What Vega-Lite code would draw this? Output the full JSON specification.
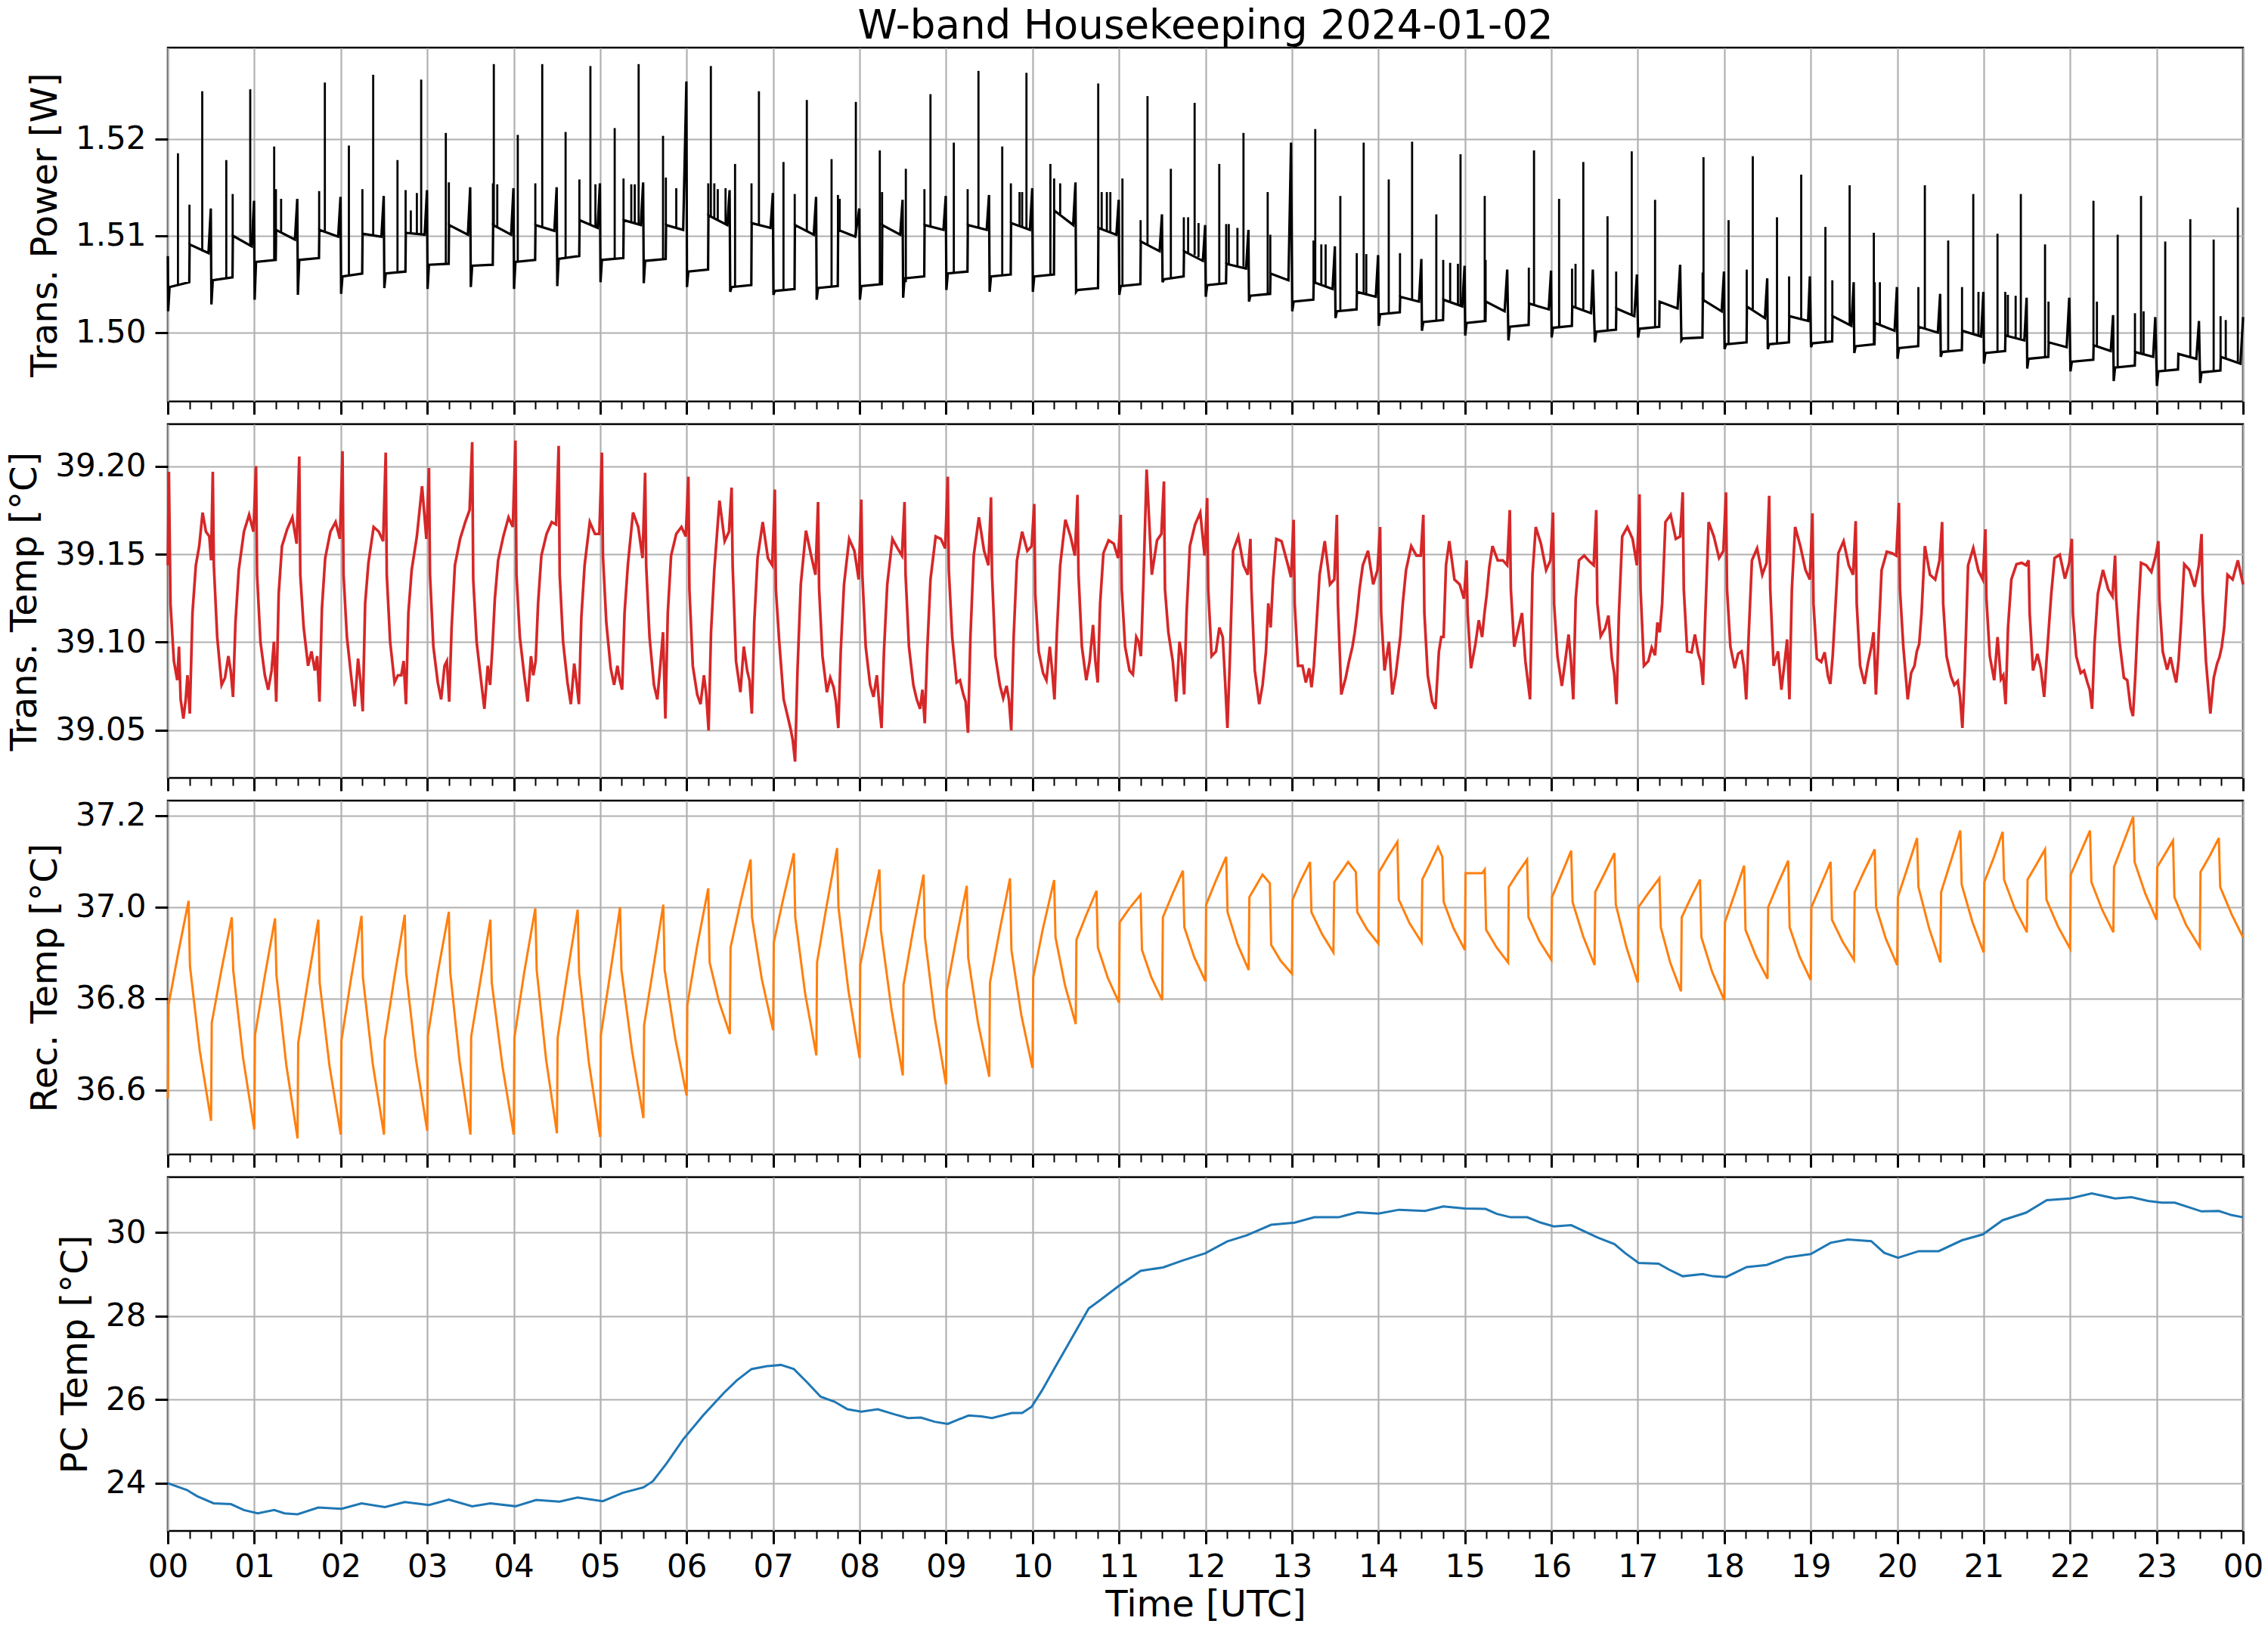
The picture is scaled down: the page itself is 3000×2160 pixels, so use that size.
{
"$schema": "https://vega.github.io/schema/vega-lite/v6.json",
"background": "white",
"padding": {"left": 8, "top": 8, "right": 8, "bottom": 4},
"spacing": 30,
"bounds": "flush",
"title": {"text": "W-band Housekeeping 2024-01-02", "fontSize": 53, "font": "DejaVu Sans", "fontWeight": "normal", "color": "#000000", "anchor": "middle", "frame": "group", "baseline": "alphabetic", "offset": -42},
"config": {
"font": "DejaVu Sans",
"view": {"stroke": "#000000", "strokeWidth": 2.5},
"axis": {"labelFont": "DejaVu Sans", "titleFont": "DejaVu Sans", "labelFontSize": 42, "titleFontSize": 48, "labelColor": "#000000", "titleColor": "#000000", "titleFontWeight": "normal", "gridColor": "#b0b0b0", "gridWidth": 2.2, "tickColor": "#000000", "domain": false}
},
"datasets": {
"pw": [
{"t":0,"v":1.5079},{"t":0.004,"v":1.5022},{"t":0.02,"v":1.5047},{"t":0.248,"v":1.5052},{"t":0.252,"v":1.5091},{"t":0.47,"v":1.5082},{"t":0.497,"v":1.5128},
{"t":0.504,"v":1.5029},{"t":0.52,"v":1.5054},{"t":0.748,"v":1.5057},{"t":0.752,"v":1.5100},{"t":0.97,"v":1.5089},{"t":0.997,"v":1.5136},
{"t":1.004,"v":1.5034},{"t":1.02,"v":1.5073},{"t":1.248,"v":1.5075},{"t":1.252,"v":1.5106},{"t":1.47,"v":1.5096},{"t":1.497,"v":1.5138},
{"t":1.504,"v":1.5039},{"t":1.52,"v":1.5075},{"t":1.748,"v":1.5077},{"t":1.752,"v":1.5106},{"t":1.97,"v":1.5099},{"t":1.997,"v":1.5140},
{"t":2.004,"v":1.5040},{"t":2.02,"v":1.5058},{"t":2.248,"v":1.5061},{"t":2.252,"v":1.5102},{"t":2.47,"v":1.5099},{"t":2.497,"v":1.5141},
{"t":2.504,"v":1.5046},{"t":2.52,"v":1.5061},{"t":2.748,"v":1.5063},{"t":2.752,"v":1.5103},{"t":2.97,"v":1.5101},{"t":2.997,"v":1.5147},
{"t":3.004,"v":1.5045},{"t":3.02,"v":1.5070},{"t":3.248,"v":1.5071},{"t":3.252,"v":1.5111},{"t":3.47,"v":1.5101},{"t":3.497,"v":1.5150},
{"t":3.504,"v":1.5047},{"t":3.52,"v":1.5069},{"t":3.758,"v":1.5070},{"t":3.762,"v":1.5111},{"t":3.97,"v":1.5101},{"t":3.997,"v":1.5149},
{"t":4.004,"v":1.5045},{"t":4.02,"v":1.5073},{"t":4.248,"v":1.5075},{"t":4.252,"v":1.5111},{"t":4.47,"v":1.5105},{"t":4.497,"v":1.5150},
{"t":4.504,"v":1.5048},{"t":4.52,"v":1.5076},{"t":4.758,"v":1.5079},{"t":4.762,"v":1.5116},{"t":4.97,"v":1.5108},{"t":4.997,"v":1.5154},
{"t":5.004,"v":1.5052},{"t":5.02,"v":1.5075},{"t":5.268,"v":1.5077},{"t":5.272,"v":1.5116},{"t":5.47,"v":1.5111},{"t":5.497,"v":1.5155},
{"t":5.504,"v":1.5051},{"t":5.52,"v":1.5074},{"t":5.758,"v":1.5076},{"t":5.762,"v":1.5111},{"t":5.96,"v":1.5106},{"t":5.997,"v":1.5259},
{"t":6.004,"v":1.5047},{"t":6.02,"v":1.5063},{"t":6.248,"v":1.5065},{"t":6.252,"v":1.5121},{"t":6.47,"v":1.5111},{"t":6.497,"v":1.5147},
{"t":6.504,"v":1.5042},{"t":6.52,"v":1.5047},{"t":6.748,"v":1.5049},{"t":6.752,"v":1.5113},{"t":6.97,"v":1.5108},{"t":6.997,"v":1.5144},
{"t":7.004,"v":1.5039},{"t":7.02,"v":1.5043},{"t":7.248,"v":1.5045},{"t":7.252,"v":1.5111},{"t":7.47,"v":1.5101},{"t":7.497,"v":1.5140},
{"t":7.504,"v":1.5034},{"t":7.52,"v":1.5046},{"t":7.748,"v":1.5048},{"t":7.752,"v":1.5106},{"t":7.95,"v":1.5099},{"t":7.997,"v":1.5128},
{"t":8.004,"v":1.5034},{"t":8.02,"v":1.5048},{"t":8.258,"v":1.5050},{"t":8.262,"v":1.5111},{"t":8.47,"v":1.5101},{"t":8.497,"v":1.5137},
{"t":8.504,"v":1.5036},{"t":8.52,"v":1.5056},{"t":8.748,"v":1.5058},{"t":8.752,"v":1.5111},{"t":8.97,"v":1.5106},{"t":8.997,"v":1.5141},
{"t":9.004,"v":1.5044},{"t":9.02,"v":1.5061},{"t":9.248,"v":1.5063},{"t":9.252,"v":1.5111},{"t":9.47,"v":1.5106},{"t":9.497,"v":1.5142},
{"t":9.504,"v":1.5042},{"t":9.52,"v":1.5058},{"t":9.748,"v":1.5060},{"t":9.752,"v":1.5113},{"t":9.97,"v":1.5106},{"t":9.997,"v":1.5149},
{"t":10.004,"v":1.5042},{"t":10.02,"v":1.5058},{"t":10.248,"v":1.5060},{"t":10.252,"v":1.5126},{"t":10.47,"v":1.5111},{"t":10.497,"v":1.5155},
{"t":10.504,"v":1.5042},{"t":10.52,"v":1.5044},{"t":10.758,"v":1.5046},{"t":10.762,"v":1.5108},{"t":10.97,"v":1.5101},{"t":10.997,"v":1.5137},
{"t":11.004,"v":1.5039},{"t":11.02,"v":1.5048},{"t":11.248,"v":1.5050},{"t":11.252,"v":1.5094},{"t":11.47,"v":1.5084},{"t":11.497,"v":1.5122},
{"t":11.504,"v":1.5052},{"t":11.52,"v":1.5055},{"t":11.748,"v":1.5058},{"t":11.752,"v":1.5084},{"t":11.97,"v":1.5074},{"t":11.997,"v":1.5111},
{"t":12.004,"v":1.5037},{"t":12.02,"v":1.5049},{"t":12.238,"v":1.5051},{"t":12.242,"v":1.5071},{"t":12.47,"v":1.5066},{"t":12.497,"v":1.5106},
{"t":12.504,"v":1.5032},{"t":12.52,"v":1.5038},{"t":12.748,"v":1.5040},{"t":12.752,"v":1.5061},{"t":12.96,"v":1.5054},{"t":12.99,"v":1.5196},
{"t":13.004,"v":1.5022},{"t":13.02,"v":1.5032},{"t":13.248,"v":1.5034},{"t":13.252,"v":1.5052},{"t":13.47,"v":1.5045},{"t":13.497,"v":1.5089},
{"t":13.504,"v":1.5015},{"t":13.52,"v":1.5022},{"t":13.748,"v":1.5024},{"t":13.752,"v":1.5042},{"t":13.97,"v":1.5037},{"t":13.997,"v":1.5080},
{"t":14.004,"v":1.5007},{"t":14.02,"v":1.5019},{"t":14.248,"v":1.5021},{"t":14.252,"v":1.5037},{"t":14.47,"v":1.5032},{"t":14.497,"v":1.5076},
{"t":14.504,"v":1.5002},{"t":14.52,"v":1.5011},{"t":14.748,"v":1.5013},{"t":14.752,"v":1.5034},{"t":14.97,"v":1.5027},{"t":14.997,"v":1.5069},
{"t":15.004,"v":1.4997},{"t":15.02,"v":1.5010},{"t":15.238,"v":1.5012},{"t":15.242,"v":1.5032},{"t":15.46,"v":1.5022},{"t":15.49,"v":1.5065},
{"t":15.504,"v":1.4992},{"t":15.52,"v":1.5006},{"t":15.738,"v":1.5008},{"t":15.742,"v":1.5030},{"t":15.97,"v":1.5024},{"t":15.997,"v":1.5064},
{"t":16.004,"v":1.4995},{"t":16.02,"v":1.5005},{"t":16.238,"v":1.5007},{"t":16.242,"v":1.5027},{"t":16.46,"v":1.5020},{"t":16.48,"v":1.5065},
{"t":16.504,"v":1.4990},{"t":16.52,"v":1.5001},{"t":16.748,"v":1.5003},{"t":16.752,"v":1.5025},{"t":16.96,"v":1.5017},{"t":16.99,"v":1.5060},
{"t":17.004,"v":1.4995},{"t":17.02,"v":1.5004},{"t":17.248,"v":1.5006},{"t":17.252,"v":1.5032},{"t":17.46,"v":1.5025},{"t":17.49,"v":1.5070},
{"t":17.504,"v":1.4992},{"t":17.52,"v":1.4994},{"t":17.748,"v":1.4995},{"t":17.752,"v":1.5034},{"t":17.97,"v":1.5022},{"t":17.997,"v":1.5063},
{"t":18.004,"v":1.4983},{"t":18.02,"v":1.4988},{"t":18.258,"v":1.4990},{"t":18.262,"v":1.5027},{"t":18.47,"v":1.5015},{"t":18.497,"v":1.5056},
{"t":18.504,"v":1.4983},{"t":18.52,"v":1.4988},{"t":18.748,"v":1.4990},{"t":18.752,"v":1.5017},{"t":18.97,"v":1.5012},{"t":18.99,"v":1.5058},
{"t":19.004,"v":1.4985},{"t":19.02,"v":1.4989},{"t":19.248,"v":1.4991},{"t":19.252,"v":1.5017},{"t":19.47,"v":1.5007},{"t":19.497,"v":1.5052},
{"t":19.504,"v":1.4979},{"t":19.52,"v":1.4986},{"t":19.738,"v":1.4988},{"t":19.742,"v":1.5010},{"t":19.97,"v":1.5002},{"t":19.997,"v":1.5047},
{"t":20.004,"v":1.4973},{"t":20.02,"v":1.4984},{"t":20.243,"v":1.4986},{"t":20.247,"v":1.5006},{"t":20.47,"v":1.5000},{"t":20.497,"v":1.5040},
{"t":20.504,"v":1.4975},{"t":20.52,"v":1.4980},{"t":20.748,"v":1.4982},{"t":20.752,"v":1.5002},{"t":20.97,"v":1.4996},{"t":20.997,"v":1.5042},
{"t":21.004,"v":1.4968},{"t":21.02,"v":1.4979},{"t":21.248,"v":1.4981},{"t":21.252,"v":1.4997},{"t":21.47,"v":1.4992},{"t":21.497,"v":1.5036},
{"t":21.504,"v":1.4963},{"t":21.52,"v":1.4973},{"t":21.748,"v":1.4975},{"t":21.752,"v":1.4990},{"t":21.96,"v":1.4985},{"t":21.99,"v":1.5036},
{"t":22.004,"v":1.4960},{"t":22.02,"v":1.4970},{"t":22.268,"v":1.4972},{"t":22.272,"v":1.4987},{"t":22.47,"v":1.4981},{"t":22.497,"v":1.5018},
{"t":22.504,"v":1.4950},{"t":22.52,"v":1.4964},{"t":22.748,"v":1.4966},{"t":22.752,"v":1.4980},{"t":22.96,"v":1.4975},{"t":22.985,"v":1.5016},
{"t":23.004,"v":1.4945},{"t":23.02,"v":1.4960},{"t":23.248,"v":1.4962},{"t":23.252,"v":1.4978},{"t":23.46,"v":1.4973},{"t":23.49,"v":1.5012},
{"t":23.504,"v":1.4948},{"t":23.52,"v":1.4959},{"t":23.738,"v":1.4961},{"t":23.742,"v":1.4975},{"t":23.97,"v":1.4968},{"t":24.0,"v":1.5016}
],
"ps": [
{"t":0.117,"b":1.5049,"s":1.5185},{"t":0.25,"b":1.5091,"s":1.5132},{"t":0.398,"b":1.5084,"s":1.5249},
{"t":0.676,"b":1.5056,"s":1.5178},{"t":0.75,"b":1.5100,"s":1.5143},{"t":0.953,"b":1.5090,"s":1.5251},
{"t":1.23,"b":1.5075,"s":1.5192},{"t":1.25,"b":1.5106,"s":1.5148},{"t":1.31,"b":1.5104,"s":1.5138},
{"t":1.75,"b":1.5106,"s":1.5146},{"t":1.816,"b":1.5104,"s":1.5258},
{"t":2.094,"b":1.5059,"s":1.5193},{"t":2.25,"b":1.5102,"s":1.5148},{"t":2.375,"b":1.5101,"s":1.5266},
{"t":2.656,"b":1.5062,"s":1.5178},{"t":2.75,"b":1.5103,"s":1.5147},{"t":2.81,"b":1.5103,"s":1.5126},{"t":2.88,"b":1.5102,"s":1.5144},{"t":2.93,"b":1.5102,"s":1.5261},
{"t":3.215,"b":1.5071,"s":1.5206},{"t":3.25,"b":1.5111,"s":1.5155},
{"t":3.76,"b":1.5111,"s":1.5154},{"t":3.77,"b":1.5110,"s":1.5277},{"t":3.81,"b":1.5108,"s":1.5153},
{"t":4.047,"b":1.5073,"s":1.5204},{"t":4.25,"b":1.5111,"s":1.5154},{"t":4.33,"b":1.5109,"s":1.5277},
{"t":4.60,"b":1.5077,"s":1.5207},{"t":4.76,"b":1.5116,"s":1.5158},{"t":4.887,"b":1.5111,"s":1.5275},{"t":4.945,"b":1.5109,"s":1.5153},
{"t":5.168,"b":1.5076,"s":1.5211},{"t":5.27,"b":1.5116,"s":1.5159},{"t":5.36,"b":1.5114,"s":1.5153},{"t":5.40,"b":1.5113,"s":1.5153},{"t":5.445,"b":1.5112,"s":1.5277},
{"t":5.727,"b":1.5075,"s":1.5203},{"t":5.76,"b":1.5111,"s":1.5160},{"t":5.88,"b":1.5108,"s":1.5149},
{"t":6.25,"b":1.5121,"s":1.5154},{"t":6.28,"b":1.5120,"s":1.5275},{"t":6.32,"b":1.5118,"s":1.5154},{"t":6.36,"b":1.5117,"s":1.5148},{"t":6.45,"b":1.5113,"s":1.5149},
{"t":6.56,"b":1.5048,"s":1.5174},{"t":6.75,"b":1.5113,"s":1.5154},{"t":6.836,"b":1.5111,"s":1.5249},
{"t":7.12,"b":1.5044,"s":1.5176},{"t":7.25,"b":1.5111,"s":1.5143},{"t":7.39,"b":1.5105,"s":1.5240},
{"t":7.676,"b":1.5047,"s":1.5179},{"t":7.75,"b":1.5106,"s":1.5142},{"t":7.77,"b":1.5105,"s":1.5138},{"t":7.957,"b":1.5100,"s":1.5238},
{"t":8.234,"b":1.5050,"s":1.5188},{"t":8.26,"b":1.5111,"s":1.5145},
{"t":8.535,"b":1.5052,"s":1.5169},{"t":8.75,"b":1.5111,"s":1.5148},{"t":8.82,"b":1.5110,"s":1.5246},
{"t":9.09,"b":1.5062,"s":1.5196},{"t":9.25,"b":1.5111,"s":1.5148},{"t":9.375,"b":1.5109,"s":1.5270},
{"t":9.65,"b":1.5059,"s":1.5192},{"t":9.75,"b":1.5113,"s":1.5154},{"t":9.85,"b":1.5110,"s":1.5145},{"t":9.88,"b":1.5109,"s":1.5145},{"t":9.93,"b":1.5108,"s":1.5268},
{"t":10.207,"b":1.5059,"s":1.5174},{"t":10.25,"b":1.5126,"s":1.5159},{"t":10.32,"b":1.5122,"s":1.5154},
{"t":10.76,"b":1.5108,"s":1.5257},{"t":10.80,"b":1.5107,"s":1.5145},{"t":10.86,"b":1.5105,"s":1.5145},{"t":10.90,"b":1.5104,"s":1.5145},
{"t":11.04,"b":1.5048,"s":1.5159},{"t":11.25,"b":1.5094,"s":1.5116},{"t":11.33,"b":1.5090,"s":1.5244},
{"t":11.60,"b":1.5056,"s":1.5169},{"t":11.75,"b":1.5084,"s":1.5119},{"t":11.80,"b":1.5082,"s":1.5119},{"t":11.875,"b":1.5080,"s":1.5237},{"t":11.92,"b":1.5078,"s":1.5113},
{"t":12.16,"b":1.5050,"s":1.5174},{"t":12.24,"b":1.5071,"s":1.5112},{"t":12.27,"b":1.5071,"s":1.5112},{"t":12.37,"b":1.5069,"s":1.5108},{"t":12.44,"b":1.5068,"s":1.5206},
{"t":12.72,"b":1.5039,"s":1.5145},{"t":12.75,"b":1.5061,"s":1.5101},
{"t":13.25,"b":1.5052,"s":1.5095},{"t":13.27,"b":1.5051,"s":1.5210},{"t":13.34,"b":1.5049,"s":1.5091},{"t":13.39,"b":1.5047,"s":1.5091},
{"t":13.56,"b":1.5023,"s":1.5141},{"t":13.75,"b":1.5042,"s":1.5082},{"t":13.83,"b":1.5040,"s":1.5196},{"t":13.86,"b":1.5039,"s":1.5081},
{"t":14.12,"b":1.5020,"s":1.5158},{"t":14.25,"b":1.5037,"s":1.5082},{"t":14.39,"b":1.5034,"s":1.5197},
{"t":14.67,"b":1.5012,"s":1.5122},{"t":14.75,"b":1.5034,"s":1.5075},{"t":14.83,"b":1.5032,"s":1.5072},{"t":14.92,"b":1.5029,"s":1.5071},{"t":14.95,"b":1.5028,"s":1.5184},
{"t":15.23,"b":1.5012,"s":1.5141},{"t":15.24,"b":1.5032,"s":1.5075},
{"t":15.74,"b":1.5030,"s":1.5067},{"t":15.80,"b":1.5029,"s":1.5188},
{"t":16.09,"b":1.5006,"s":1.5138},{"t":16.24,"b":1.5027,"s":1.5066},{"t":16.28,"b":1.5026,"s":1.5071},{"t":16.37,"b":1.5024,"s":1.5176},
{"t":16.65,"b":1.5002,"s":1.5120},{"t":16.75,"b":1.5025,"s":1.5063},{"t":16.93,"b":1.5019,"s":1.5187},
{"t":17.20,"b":1.5005,"s":1.5137},
{"t":17.75,"b":1.5034,"s":1.5062},{"t":17.76,"b":1.5034,"s":1.5181},
{"t":18.05,"b":1.4988,"s":1.5116},{"t":18.26,"b":1.5027,"s":1.5065},{"t":18.33,"b":1.5024,"s":1.5182},
{"t":18.61,"b":1.4989,"s":1.5119},{"t":18.75,"b":1.5017,"s":1.5058},{"t":18.89,"b":1.5014,"s":1.5163},
{"t":19.17,"b":1.4990,"s":1.5109},{"t":19.25,"b":1.5017,"s":1.5054},{"t":19.45,"b":1.5009,"s":1.5152},
{"t":19.73,"b":1.4987,"s":1.5103},{"t":19.74,"b":1.5010,"s":1.5052},{"t":19.80,"b":1.5008,"s":1.5052},
{"t":20.245,"b":1.5006,"s":1.5047},{"t":20.32,"b":1.5004,"s":1.5152},
{"t":20.59,"b":1.4981,"s":1.5095},{"t":20.75,"b":1.5002,"s":1.5047},{"t":20.88,"b":1.4999,"s":1.5143},{"t":20.94,"b":1.4997,"s":1.5042},
{"t":21.16,"b":1.4980,"s":1.5102},{"t":21.25,"b":1.4997,"s":1.5042},{"t":21.28,"b":1.4996,"s":1.5039},{"t":21.37,"b":1.4995,"s":1.5038},{"t":21.43,"b":1.4994,"s":1.5143},
{"t":21.71,"b":1.4974,"s":1.5091},{"t":21.75,"b":1.4990,"s":1.5032},
{"t":22.27,"b":1.4987,"s":1.5136},{"t":22.31,"b":1.4986,"s":1.5032},
{"t":22.55,"b":1.4965,"s":1.5101},{"t":22.75,"b":1.4980,"s":1.5020},{"t":22.82,"b":1.4979,"s":1.5141},{"t":22.85,"b":1.4978,"s":1.5022},
{"t":23.10,"b":1.4961,"s":1.5094},{"t":23.39,"b":1.4975,"s":1.5117},
{"t":23.66,"b":1.4960,"s":1.5096},{"t":23.74,"b":1.4975,"s":1.5017},{"t":23.80,"b":1.4974,"s":1.5013},{"t":23.94,"b":1.4970,"s":1.5129}
],
"tt": [
{"t":0,"v":39.1437},{"t":0.012,"v":39.1969},{"t":0.031,"v":39.1220},{"t":0.05,"v":39.1056},{"t":0.07,"v":39.0892},{"t":0.109,"v":39.0783},{"t":0.129,"v":39.0974},{"t":0.148,"v":39.0674},{"t":0.18,"v":39.0565},{"t":0.207,"v":39.0674},{"t":0.227,"v":39.0811},{"t":0.254,"v":39.0593},{"t":0.285,"v":39.1165},{"t":0.324,"v":39.1437},{"t":0.363,"v":39.1546},{"t":0.402,"v":39.1737},{"t":0.441,"v":39.1628},{"t":0.48,"v":39.1601},{"t":0.5,"v":39.1465},
{"t":0.52,"v":39.1969},{"t":0.532,"v":39.1437},{"t":0.571,"v":39.1029},{"t":0.622,"v":39.0756},{"t":0.661,"v":39.0797},{"t":0.7,"v":39.0920},{"t":0.727,"v":39.0838},{"t":0.754,"v":39.0688},{"t":0.782,"v":39.1111},{"t":0.82,"v":39.1410},{"t":0.88,"v":39.1628},{"t":0.94,"v":39.1724},{"t":0.99,"v":39.1628},
{"t":1.02,"v":39.2001},{"t":1.032,"v":39.1383},{"t":1.071,"v":39.1002},{"t":1.122,"v":39.0811},{"t":1.161,"v":39.0729},{"t":1.2,"v":39.0838},{"t":1.227,"v":39.1002},{"t":1.254,"v":39.0661},{"t":1.282,"v":39.1274},{"t":1.32,"v":39.1546},{"t":1.38,"v":39.1642},{"t":1.44,"v":39.1710},{"t":1.49,"v":39.1560},
{"t":1.52,"v":39.2056},{"t":1.532,"v":39.1383},{"t":1.571,"v":39.1083},{"t":1.622,"v":39.0865},{"t":1.661,"v":39.0947},{"t":1.7,"v":39.0838},{"t":1.727,"v":39.0920},{"t":1.754,"v":39.0661},{"t":1.782,"v":39.1192},{"t":1.82,"v":39.1478},{"t":1.88,"v":39.1628},{"t":1.94,"v":39.1683},{"t":1.99,"v":39.1587},
{"t":2.02,"v":39.2086},{"t":2.032,"v":39.1383},{"t":2.071,"v":39.1029},{"t":2.122,"v":39.0797},{"t":2.161,"v":39.0634},{"t":2.2,"v":39.0906},{"t":2.227,"v":39.0783},{"t":2.254,"v":39.0606},{"t":2.282,"v":39.1220},{"t":2.32,"v":39.1451},{"t":2.38,"v":39.1655},{"t":2.44,"v":39.1628},{"t":2.49,"v":39.1574},
{"t":2.52,"v":39.2078},{"t":2.532,"v":39.1383},{"t":2.571,"v":39.1002},{"t":2.622,"v":39.0770},{"t":2.661,"v":39.0811},{"t":2.7,"v":39.0811},{"t":2.727,"v":39.0892},{"t":2.754,"v":39.0647},{"t":2.782,"v":39.1165},{"t":2.82,"v":39.1410},{"t":2.88,"v":39.1601},{"t":2.94,"v":39.1887},{"t":2.99,"v":39.1587},
{"t":3.02,"v":39.1990},{"t":3.032,"v":39.1383},{"t":3.071,"v":39.0974},{"t":3.122,"v":39.0770},{"t":3.161,"v":39.0674},{"t":3.2,"v":39.0865},{"t":3.227,"v":39.0892},{"t":3.254,"v":39.0661},{"t":3.282,"v":39.1083},{"t":3.32,"v":39.1437},{"t":3.38,"v":39.1587},{"t":3.44,"v":39.1683},{"t":3.49,"v":39.1751},
{"t":3.52,"v":39.2138},{"t":3.532,"v":39.1356},{"t":3.571,"v":39.1002},{"t":3.622,"v":39.0783},{"t":3.661,"v":39.0620},{"t":3.7,"v":39.0865},{"t":3.727,"v":39.0756},{"t":3.754,"v":39.0974},{"t":3.782,"v":39.1247},{"t":3.82,"v":39.1465},{"t":3.88,"v":39.1601},{"t":3.94,"v":39.1710},{"t":3.99,"v":39.1655},
{"t":4.02,"v":39.2146},{"t":4.032,"v":39.1383},{"t":4.071,"v":39.1029},{"t":4.122,"v":39.0811},{"t":4.161,"v":39.0661},{"t":4.2,"v":39.0920},{"t":4.227,"v":39.0811},{"t":4.254,"v":39.0892},{"t":4.282,"v":39.1220},{"t":4.32,"v":39.1492},{"t":4.38,"v":39.1615},{"t":4.44,"v":39.1683},{"t":4.49,"v":39.1669},
{"t":4.52,"v":39.2116},{"t":4.532,"v":39.1383},{"t":4.571,"v":39.1002},{"t":4.622,"v":39.0770},{"t":4.661,"v":39.0647},{"t":4.7,"v":39.0878},{"t":4.727,"v":39.0770},{"t":4.754,"v":39.0647},{"t":4.782,"v":39.1138},{"t":4.82,"v":39.1437},{"t":4.88,"v":39.1683},{"t":4.94,"v":39.1615},{"t":4.99,"v":39.1615},
{"t":5.02,"v":39.2078},{"t":5.032,"v":39.1492},{"t":5.071,"v":39.1111},{"t":5.122,"v":39.0851},{"t":5.161,"v":39.0756},{"t":5.2,"v":39.0865},{"t":5.227,"v":39.0783},{"t":5.254,"v":39.0729},{"t":5.282,"v":39.1165},{"t":5.32,"v":39.1437},{"t":5.38,"v":39.1737},{"t":5.44,"v":39.1655},{"t":5.49,"v":39.1478},
{"t":5.52,"v":39.1963},{"t":5.532,"v":39.1437},{"t":5.571,"v":39.1029},{"t":5.622,"v":39.0756},{"t":5.661,"v":39.0674},{"t":5.7,"v":39.0892},{"t":5.727,"v":39.1056},{"t":5.754,"v":39.0565},{"t":5.782,"v":39.1165},{"t":5.82,"v":39.1492},{"t":5.88,"v":39.1615},{"t":5.94,"v":39.1655},{"t":5.99,"v":39.1601},
{"t":6.02,"v":39.1941},{"t":6.032,"v":39.1301},{"t":6.071,"v":39.0865},{"t":6.122,"v":39.0702},{"t":6.161,"v":39.0647},{"t":6.2,"v":39.0811},{"t":6.227,"v":39.0702},{"t":6.254,"v":39.0497},{"t":6.282,"v":39.1056},{"t":6.32,"v":39.1410},{"t":6.38,"v":39.1805},{"t":6.44,"v":39.1574},{"t":6.49,"v":39.1628},
{"t":6.52,"v":39.1879},{"t":6.532,"v":39.1437},{"t":6.571,"v":39.0892},{"t":6.622,"v":39.0715},{"t":6.661,"v":39.0974},{"t":6.7,"v":39.0838},{"t":6.727,"v":39.0783},{"t":6.754,"v":39.0593},{"t":6.782,"v":39.1111},{"t":6.82,"v":39.1478},{"t":6.88,"v":39.1683},{"t":6.94,"v":39.1478},{"t":6.99,"v":39.1437},
{"t":7.02,"v":39.1868},{"t":7.032,"v":39.1301},{"t":7.071,"v":39.1002},{"t":7.122,"v":39.0674},{"t":7.161,"v":39.0593},{"t":7.2,"v":39.0511},{"t":7.227,"v":39.0443},{"t":7.254,"v":39.0320},{"t":7.282,"v":39.0838},{"t":7.32,"v":39.1328},{"t":7.38,"v":39.1634},{"t":7.44,"v":39.1492},{"t":7.49,"v":39.1383},
{"t":7.52,"v":39.1797},{"t":7.532,"v":39.1301},{"t":7.571,"v":39.0920},{"t":7.622,"v":39.0715},{"t":7.661,"v":39.0797},{"t":7.7,"v":39.0743},{"t":7.727,"v":39.0661},{"t":7.754,"v":39.0511},{"t":7.782,"v":39.0947},{"t":7.82,"v":39.1328},{"t":7.88,"v":39.1587},{"t":7.94,"v":39.1519},{"t":7.99,"v":39.1356},
{"t":8.02,"v":39.1811},{"t":8.032,"v":39.1383},{"t":8.071,"v":39.0974},{"t":8.122,"v":39.0756},{"t":8.161,"v":39.0688},{"t":8.2,"v":39.0811},{"t":8.227,"v":39.0647},{"t":8.254,"v":39.0511},{"t":8.282,"v":39.0947},{"t":8.32,"v":39.1328},{"t":8.38,"v":39.1587},{"t":8.44,"v":39.1533},{"t":8.49,"v":39.1492},
{"t":8.52,"v":39.1797},{"t":8.532,"v":39.1383},{"t":8.571,"v":39.0974},{"t":8.622,"v":39.0756},{"t":8.661,"v":39.0674},{"t":8.7,"v":39.0620},{"t":8.727,"v":39.0729},{"t":8.754,"v":39.0538},{"t":8.782,"v":39.0947},{"t":8.82,"v":39.1356},{"t":8.88,"v":39.1601},{"t":8.94,"v":39.1587},{"t":8.99,"v":39.1533},
{"t":9.02,"v":39.1941},{"t":9.032,"v":39.1410},{"t":9.071,"v":39.1029},{"t":9.122,"v":39.0770},{"t":9.161,"v":39.0783},{"t":9.2,"v":39.0702},{"t":9.227,"v":39.0661},{"t":9.254,"v":39.0484},{"t":9.282,"v":39.1029},{"t":9.32,"v":39.1492},{"t":9.38,"v":39.1710},{"t":9.44,"v":39.1519},{"t":9.49,"v":39.1437},
{"t":9.52,"v":39.1824},{"t":9.532,"v":39.1383},{"t":9.571,"v":39.0920},{"t":9.622,"v":39.0756},{"t":9.661,"v":39.0680},{"t":9.7,"v":39.0751},{"t":9.727,"v":39.0674},{"t":9.754,"v":39.0497},{"t":9.782,"v":39.1029},{"t":9.82,"v":39.1465},{"t":9.88,"v":39.1628},{"t":9.94,"v":39.1519},{"t":9.99,"v":39.1546},
{"t":10.02,"v":39.1786},{"t":10.032,"v":39.1274},{"t":10.071,"v":39.0947},{"t":10.122,"v":39.0824},{"t":10.161,"v":39.0783},{"t":10.2,"v":39.0974},{"t":10.227,"v":39.0838},{"t":10.254,"v":39.0674},{"t":10.282,"v":39.1056},{"t":10.32,"v":39.1437},{"t":10.38,"v":39.1696},{"t":10.44,"v":39.1601},{"t":10.49,"v":39.1492},
{"t":10.52,"v":39.1838},{"t":10.532,"v":39.1383},{"t":10.571,"v":39.0974},{"t":10.622,"v":39.0783},{"t":10.661,"v":39.0892},{"t":10.7,"v":39.1097},{"t":10.727,"v":39.0892},{"t":10.754,"v":39.0770},{"t":10.782,"v":39.1220},{"t":10.82,"v":39.1506},{"t":10.88,"v":39.1579},{"t":10.94,"v":39.1560},{"t":10.99,"v":39.1478},
{"t":11.02,"v":39.1724},{"t":11.032,"v":39.1301},{"t":11.071,"v":39.0974},{"t":11.122,"v":39.0838},{"t":11.161,"v":39.0816},{"t":11.2,"v":39.1029},{"t":11.227,"v":39.1002},{"t":11.254,"v":39.0920},{"t":11.282,"v":39.1328},{"t":11.32,"v":39.1982},{"t":11.38,"v":39.1383},{"t":11.44,"v":39.1579},{"t":11.49,"v":39.1615},
{"t":11.52,"v":39.1914},{"t":11.532,"v":39.1301},{"t":11.571,"v":39.1056},{"t":11.622,"v":39.0892},{"t":11.661,"v":39.0661},{"t":11.7,"v":39.1002},{"t":11.727,"v":39.0920},{"t":11.754,"v":39.0702},{"t":11.782,"v":39.1165},{"t":11.82,"v":39.1546},{"t":11.88,"v":39.1669},{"t":11.94,"v":39.1737},{"t":11.99,"v":39.1492},
{"t":12.02,"v":39.1819},{"t":12.032,"v":39.1301},{"t":12.071,"v":39.0920},{"t":12.122,"v":39.0947},{"t":12.161,"v":39.1083},{"t":12.2,"v":39.1029},{"t":12.227,"v":39.0783},{"t":12.254,"v":39.0511},{"t":12.282,"v":39.0892},{"t":12.32,"v":39.1519},{"t":12.38,"v":39.1601},{"t":12.44,"v":39.1437},{"t":12.49,"v":39.1383},
{"t":12.52,"v":39.1587},{"t":12.532,"v":39.1301},{"t":12.571,"v":39.0838},{"t":12.622,"v":39.0647},{"t":12.661,"v":39.0756},{"t":12.7,"v":39.0947},{"t":12.727,"v":39.1220},{"t":12.754,"v":39.1083},{"t":12.782,"v":39.1356},{"t":12.82,"v":39.1587},{"t":12.88,"v":39.1574},{"t":12.94,"v":39.1465},{"t":12.99,"v":39.1369},
{"t":13.02,"v":39.1696},{"t":13.032,"v":39.1220},{"t":13.071,"v":39.0865},{"t":13.122,"v":39.0865},{"t":13.161,"v":39.0770},{"t":13.2,"v":39.0851},{"t":13.227,"v":39.0743},{"t":13.254,"v":39.0865},{"t":13.282,"v":39.1083},{"t":13.32,"v":39.1383},{"t":13.38,"v":39.1574},{"t":13.44,"v":39.1328},{"t":13.49,"v":39.1356},
{"t":13.52,"v":39.1724},{"t":13.532,"v":39.1220},{"t":13.571,"v":39.0702},{"t":13.622,"v":39.0797},{"t":13.661,"v":39.0892},{"t":13.7,"v":39.0974},{"t":13.727,"v":39.1056},{"t":13.754,"v":39.1165},{"t":13.782,"v":39.1301},{"t":13.82,"v":39.1437},{"t":13.88,"v":39.1519},{"t":13.94,"v":39.1328},{"t":13.99,"v":39.1410},
{"t":14.02,"v":39.1655},{"t":14.032,"v":39.1165},{"t":14.071,"v":39.0838},{"t":14.122,"v":39.1002},{"t":14.161,"v":39.0702},{"t":14.2,"v":39.0811},{"t":14.227,"v":39.0920},{"t":14.254,"v":39.1029},{"t":14.282,"v":39.1220},{"t":14.32,"v":39.1410},{"t":14.38,"v":39.1546},{"t":14.44,"v":39.1492},{"t":14.49,"v":39.1492},
{"t":14.52,"v":39.1724},{"t":14.532,"v":39.1165},{"t":14.571,"v":39.0811},{"t":14.622,"v":39.0661},{"t":14.661,"v":39.0620},{"t":14.7,"v":39.0947},{"t":14.727,"v":39.1029},{"t":14.754,"v":39.1029},{"t":14.782,"v":39.1437},{"t":14.82,"v":39.1574},{"t":14.88,"v":39.1356},{"t":14.94,"v":39.1328},{"t":14.99,"v":39.1247},
{"t":15.02,"v":39.1465},{"t":15.032,"v":39.1165},{"t":15.071,"v":39.0851},{"t":15.122,"v":39.0988},{"t":15.161,"v":39.1124},{"t":15.2,"v":39.1029},{"t":15.227,"v":39.1165},{"t":15.254,"v":39.1274},{"t":15.282,"v":39.1424},{"t":15.32,"v":39.1546},{"t":15.38,"v":39.1465},{"t":15.44,"v":39.1465},{"t":15.49,"v":39.1437},
{"t":15.52,"v":39.1751},{"t":15.532,"v":39.1301},{"t":15.571,"v":39.0974},{"t":15.622,"v":39.1083},{"t":15.661,"v":39.1165},{"t":15.7,"v":39.0892},{"t":15.727,"v":39.0783},{"t":15.754,"v":39.0674},{"t":15.782,"v":39.1383},{"t":15.82,"v":39.1655},{"t":15.88,"v":39.1560},{"t":15.94,"v":39.1410},{"t":15.99,"v":39.1465},
{"t":16.02,"v":39.1737},{"t":16.032,"v":39.1220},{"t":16.071,"v":39.0920},{"t":16.122,"v":39.0751},{"t":16.161,"v":39.0892},{"t":16.2,"v":39.1043},{"t":16.227,"v":39.0892},{"t":16.254,"v":39.0674},{"t":16.282,"v":39.1247},{"t":16.32,"v":39.1465},{"t":16.38,"v":39.1492},{"t":16.44,"v":39.1459},{"t":16.49,"v":39.1437},
{"t":16.52,"v":39.1751},{"t":16.532,"v":39.1220},{"t":16.571,"v":39.1034},{"t":16.622,"v":39.1078},{"t":16.661,"v":39.1151},{"t":16.7,"v":39.0906},{"t":16.727,"v":39.0824},{"t":16.754,"v":39.0647},{"t":16.782,"v":39.1165},{"t":16.82,"v":39.1601},{"t":16.88,"v":39.1655},{"t":16.94,"v":39.1587},{"t":16.99,"v":39.1437},
{"t":17.02,"v":39.1841},{"t":17.032,"v":39.1301},{"t":17.071,"v":39.0865},{"t":17.122,"v":39.0892},{"t":17.161,"v":39.0969},{"t":17.2,"v":39.0925},{"t":17.227,"v":39.1111},{"t":17.254,"v":39.1056},{"t":17.282,"v":39.1220},{"t":17.32,"v":39.1683},{"t":17.38,"v":39.1724},{"t":17.44,"v":39.1587},{"t":17.49,"v":39.1601},
{"t":17.52,"v":39.1852},{"t":17.532,"v":39.1301},{"t":17.571,"v":39.0947},{"t":17.622,"v":39.0942},{"t":17.661,"v":39.1043},{"t":17.7,"v":39.0933},{"t":17.727,"v":39.0892},{"t":17.754,"v":39.0756},{"t":17.782,"v":39.1165},{"t":17.82,"v":39.1683},{"t":17.88,"v":39.1601},{"t":17.94,"v":39.1478},{"t":17.99,"v":39.1519},
{"t":18.02,"v":39.1852},{"t":18.032,"v":39.1301},{"t":18.071,"v":39.0974},{"t":18.122,"v":39.0851},{"t":18.161,"v":39.0933},{"t":18.2,"v":39.0947},{"t":18.227,"v":39.0865},{"t":18.254,"v":39.0674},{"t":18.282,"v":39.1029},{"t":18.32,"v":39.1465},{"t":18.38,"v":39.1533},{"t":18.44,"v":39.1383},{"t":18.49,"v":39.1451},
{"t":18.52,"v":39.1832},{"t":18.532,"v":39.1301},{"t":18.571,"v":39.0865},{"t":18.622,"v":39.0947},{"t":18.661,"v":39.0729},{"t":18.7,"v":39.0892},{"t":18.727,"v":39.1015},{"t":18.754,"v":39.0674},{"t":18.782,"v":39.1301},{"t":18.82,"v":39.1655},{"t":18.88,"v":39.1546},{"t":18.94,"v":39.1410},{"t":18.99,"v":39.1356},
{"t":19.02,"v":39.1732},{"t":19.032,"v":39.1220},{"t":19.071,"v":39.0906},{"t":19.122,"v":39.0887},{"t":19.161,"v":39.0942},{"t":19.2,"v":39.0805},{"t":19.227,"v":39.0762},{"t":19.254,"v":39.0920},{"t":19.282,"v":39.1165},{"t":19.32,"v":39.1506},{"t":19.38,"v":39.1574},{"t":19.44,"v":39.1437},{"t":19.49,"v":39.1383},
{"t":19.52,"v":39.1688},{"t":19.532,"v":39.1220},{"t":19.571,"v":39.0865},{"t":19.622,"v":39.0762},{"t":19.661,"v":39.0878},{"t":19.7,"v":39.0969},{"t":19.727,"v":39.1056},{"t":19.754,"v":39.0702},{"t":19.782,"v":39.1002},{"t":19.82,"v":39.1410},{"t":19.88,"v":39.1514},{"t":19.94,"v":39.1506},{"t":19.99,"v":39.1492},
{"t":20.02,"v":39.1792},{"t":20.032,"v":39.1301},{"t":20.071,"v":39.0974},{"t":20.122,"v":39.0674},{"t":20.161,"v":39.0824},{"t":20.2,"v":39.0865},{"t":20.227,"v":39.0947},{"t":20.254,"v":39.0988},{"t":20.282,"v":39.1165},{"t":20.32,"v":39.1546},{"t":20.38,"v":39.1383},{"t":20.44,"v":39.1356},{"t":20.49,"v":39.1465},
{"t":20.52,"v":39.1683},{"t":20.532,"v":39.1220},{"t":20.571,"v":39.0920},{"t":20.622,"v":39.0805},{"t":20.661,"v":39.0756},{"t":20.7,"v":39.0778},{"t":20.727,"v":39.0688},{"t":20.754,"v":39.0511},{"t":20.782,"v":39.0838},{"t":20.82,"v":39.1437},{"t":20.88,"v":39.1535},{"t":20.94,"v":39.1405},{"t":20.99,"v":39.1356},
{"t":21.02,"v":39.1642},{"t":21.032,"v":39.1247},{"t":21.071,"v":39.0920},{"t":21.122,"v":39.0783},{"t":21.161,"v":39.1029},{"t":21.2,"v":39.0789},{"t":21.227,"v":39.0811},{"t":21.254,"v":39.0647},{"t":21.282,"v":39.1083},{"t":21.32,"v":39.1356},{"t":21.38,"v":39.1443},{"t":21.44,"v":39.1451},{"t":21.49,"v":39.1437},
{"t":21.52,"v":39.1465},{"t":21.532,"v":39.1165},{"t":21.571,"v":39.0838},{"t":21.622,"v":39.0933},{"t":21.661,"v":39.0851},{"t":21.7,"v":39.0688},{"t":21.727,"v":39.0892},{"t":21.754,"v":39.1083},{"t":21.782,"v":39.1274},{"t":21.82,"v":39.1478},{"t":21.88,"v":39.1497},{"t":21.94,"v":39.1361},{"t":21.99,"v":39.1451},
{"t":22.02,"v":39.1587},{"t":22.032,"v":39.1165},{"t":22.071,"v":39.0920},{"t":22.122,"v":39.0824},{"t":22.161,"v":39.0838},{"t":22.2,"v":39.0770},{"t":22.227,"v":39.0729},{"t":22.254,"v":39.0620},{"t":22.282,"v":39.0988},{"t":22.32,"v":39.1274},{"t":22.38,"v":39.1410},{"t":22.44,"v":39.1301},{"t":22.49,"v":39.1260},
{"t":22.52,"v":39.1492},{"t":22.532,"v":39.1247},{"t":22.571,"v":39.1002},{"t":22.622,"v":39.0797},{"t":22.661,"v":39.0783},{"t":22.7,"v":39.0625},{"t":22.727,"v":39.0579},{"t":22.754,"v":39.0811},{"t":22.782,"v":39.1111},{"t":22.82,"v":39.1451},{"t":22.88,"v":39.1437},{"t":22.94,"v":39.1399},{"t":22.99,"v":39.1492},
{"t":23.02,"v":39.1574},{"t":23.032,"v":39.1247},{"t":23.071,"v":39.0947},{"t":23.122,"v":39.0843},{"t":23.161,"v":39.0914},{"t":23.2,"v":39.0824},{"t":23.227,"v":39.0770},{"t":23.254,"v":39.0892},{"t":23.282,"v":39.1097},{"t":23.32,"v":39.1443},{"t":23.38,"v":39.1410},{"t":23.44,"v":39.1315},{"t":23.49,"v":39.1437},
{"t":23.52,"v":39.1615},{"t":23.532,"v":39.1274},{"t":23.571,"v":39.0892},{"t":23.622,"v":39.0593},{"t":23.661,"v":39.0797},{"t":23.7,"v":39.0878},{"t":23.727,"v":39.0914},{"t":23.754,"v":39.0974},{"t":23.782,"v":39.1083},{"t":23.82,"v":39.1383},{"t":23.88,"v":39.1356},{"t":23.94,"v":39.1465},{"t":24.0,"v":39.1328}
],
"rt": [
{"t":0,"v":36.5824},{"t":0.008,"v":36.7857},{"t":0.12,"v":36.8997},{"t":0.24,"v":37.0137},{"t":0.256,"v":36.8709},{"t":0.37,"v":36.6851},
{"t":0.5,"v":36.5330},{"t":0.508,"v":36.7473},{"t":0.62,"v":36.8627},{"t":0.74,"v":36.9780},{"t":0.756,"v":36.8626},{"t":0.87,"v":36.6707},
{"t":1.0,"v":36.5137},{"t":1.008,"v":36.7198},{"t":1.12,"v":36.8476},{"t":1.24,"v":36.9753},{"t":1.256,"v":36.8516},{"t":1.37,"v":36.6552},
{"t":1.5,"v":36.4945},{"t":1.508,"v":36.7033},{"t":1.62,"v":36.8379},{"t":1.74,"v":36.9725},{"t":1.756,"v":36.8352},{"t":1.87,"v":36.6524},
{"t":2.0,"v":36.5028},{"t":2.008,"v":36.7088},{"t":2.12,"v":36.8448},{"t":2.24,"v":36.9808},{"t":2.256,"v":36.8462},{"t":2.37,"v":36.6573},
{"t":2.5,"v":36.5028},{"t":2.508,"v":36.7088},{"t":2.62,"v":36.8462},{"t":2.74,"v":36.9835},{"t":2.756,"v":36.8571},{"t":2.87,"v":36.6667},
{"t":3.0,"v":36.5110},{"t":3.008,"v":36.7198},{"t":3.12,"v":36.8550},{"t":3.25,"v":36.9901},{"t":3.266,"v":36.8571},{"t":3.375,"v":36.6622},
{"t":3.5,"v":36.5028},{"t":3.508,"v":36.7170},{"t":3.62,"v":36.8448},{"t":3.73,"v":36.9725},{"t":3.746,"v":36.8352},{"t":3.87,"v":36.6524},
{"t":4.0,"v":36.5028},{"t":4.008,"v":36.7143},{"t":4.12,"v":36.8558},{"t":4.25,"v":36.9973},{"t":4.266,"v":36.8626},{"t":4.375,"v":36.6662},
{"t":4.5,"v":36.5055},{"t":4.508,"v":36.7143},{"t":4.62,"v":36.8544},{"t":4.74,"v":36.9945},{"t":4.756,"v":36.8571},{"t":4.87,"v":36.6592},
{"t":5.0,"v":36.4973},{"t":5.008,"v":36.7198},{"t":5.12,"v":36.8599},{"t":5.23,"v":37.0000},{"t":5.246,"v":36.8626},{"t":5.37,"v":36.6843},
{"t":5.5,"v":36.5385},{"t":5.508,"v":36.7418},{"t":5.62,"v":36.8737},{"t":5.73,"v":37.0055},{"t":5.746,"v":36.8626},{"t":5.87,"v":36.7115},
{"t":6.0,"v":36.5879},{"t":6.008,"v":36.7857},{"t":6.12,"v":36.9135},{"t":6.25,"v":37.0412},{"t":6.266,"v":36.8791},{"t":6.375,"v":36.7930},
{"t":6.5,"v":36.7225},{"t":6.508,"v":36.9121},{"t":6.62,"v":37.0083},{"t":6.74,"v":37.1044},{"t":6.756,"v":36.9780},{"t":6.87,"v":36.8420},
{"t":7.0,"v":36.7308},{"t":7.008,"v":36.9231},{"t":7.12,"v":37.0206},{"t":7.24,"v":37.1181},{"t":7.256,"v":36.9780},{"t":7.37,"v":36.8118},
{"t":7.5,"v":36.6758},{"t":7.508,"v":36.8791},{"t":7.62,"v":37.0041},{"t":7.74,"v":37.1291},{"t":7.756,"v":37.0000},{"t":7.87,"v":36.8187},
{"t":8.0,"v":36.6703},{"t":8.008,"v":36.8736},{"t":8.12,"v":36.9780},{"t":8.23,"v":37.0824},{"t":8.246,"v":36.9505},{"t":8.37,"v":36.7753},
{"t":8.5,"v":36.6319},{"t":8.508,"v":36.8297},{"t":8.62,"v":36.9506},{"t":8.74,"v":37.0714},{"t":8.756,"v":36.9341},{"t":8.87,"v":36.7573},
{"t":9.0,"v":36.6126},{"t":9.008,"v":36.8187},{"t":9.12,"v":36.9327},{"t":9.24,"v":37.0467},{"t":9.256,"v":36.8901},{"t":9.37,"v":36.7465},
{"t":9.5,"v":36.6291},{"t":9.508,"v":36.8352},{"t":9.62,"v":36.9492},{"t":9.74,"v":37.0632},{"t":9.756,"v":36.9066},{"t":9.87,"v":36.7646},
{"t":10.0,"v":36.6484},{"t":10.008,"v":36.8462},{"t":10.12,"v":36.9528},{"t":10.25,"v":37.0593},{"t":10.266,"v":36.9341},{"t":10.375,"v":36.8298},
{"t":10.5,"v":36.7445},{"t":10.508,"v":36.9286},{"t":10.62,"v":36.9822},{"t":10.74,"v":37.0357},{"t":10.756,"v":36.9121},{"t":10.87,"v":36.8456},
{"t":11.0,"v":36.7912},{"t":11.008,"v":36.9670},{"t":11.12,"v":36.9973},{"t":11.25,"v":37.0275},{"t":11.266,"v":36.9066},{"t":11.375,"v":36.8462},
{"t":11.5,"v":36.7967},{"t":11.508,"v":36.9780},{"t":11.62,"v":37.0289},{"t":11.74,"v":37.0797},{"t":11.756,"v":36.9560},{"t":11.87,"v":36.8910},
{"t":12.0,"v":36.8379},{"t":12.008,"v":37.0055},{"t":12.12,"v":37.0577},{"t":12.24,"v":37.1099},{"t":12.256,"v":36.9890},{"t":12.37,"v":36.9195},
{"t":12.5,"v":36.8626},{"t":12.508,"v":37.0220},{"t":12.66,"v":37.0714},{"t":12.745,"v":37.0522},{"t":12.76,"v":36.9176},{"t":12.87,"v":36.8828},
{"t":13.0,"v":36.8544},{"t":13.008,"v":37.0165},{"t":13.1,"v":37.0577},{"t":13.21,"v":37.0989},{"t":13.226,"v":36.9890},{"t":13.35,"v":36.9407},
{"t":13.48,"v":36.9011},{"t":13.49,"v":37.0549},{"t":13.65,"v":37.0989},{"t":13.74,"v":37.0769},{"t":13.756,"v":36.9890},{"t":13.87,"v":36.9512},
{"t":14.0,"v":36.9203},{"t":14.008,"v":37.0769},{"t":14.11,"v":37.1099},{"t":14.22,"v":37.1429},{"t":14.236,"v":37.0165},{"t":14.36,"v":36.9651},
{"t":14.5,"v":36.9231},{"t":14.508,"v":37.0604},{"t":14.6,"v":37.0962},{"t":14.69,"v":37.1319},{"t":14.74,"v":37.1099},{"t":14.756,"v":37.0110},{"t":14.87,"v":36.9536},
{"t":15.0,"v":36.9066},{"t":15.008,"v":37.0742},{"t":15.2,"v":37.0742},{"t":15.23,"v":37.0824},{"t":15.246,"v":36.9505},{"t":15.37,"v":36.9112},
{"t":15.5,"v":36.8791},{"t":15.508,"v":37.0440},{"t":15.61,"v":37.0742},{"t":15.72,"v":37.1044},{"t":15.736,"v":36.9780},{"t":15.86,"v":36.9266},
{"t":16.0,"v":36.8846},{"t":16.008,"v":37.0220},{"t":16.12,"v":37.0728},{"t":16.23,"v":37.1236},{"t":16.246,"v":37.0110},{"t":16.37,"v":36.9354},
{"t":16.5,"v":36.8736},{"t":16.508,"v":37.0330},{"t":16.62,"v":37.0755},{"t":16.73,"v":37.1181},{"t":16.746,"v":37.0055},{"t":16.87,"v":36.9118},
{"t":17.0,"v":36.8352},{"t":17.008,"v":37.0000},{"t":17.12,"v":37.0302},{"t":17.25,"v":37.0632},{"t":17.266,"v":36.9560},{"t":17.375,"v":36.8789},
{"t":17.5,"v":36.8159},{"t":17.508,"v":36.9780},{"t":17.61,"v":37.0192},{"t":17.72,"v":37.0604},{"t":17.736,"v":36.9341},{"t":17.86,"v":36.8585},
{"t":18.0,"v":36.7967},{"t":18.008,"v":36.9670},{"t":18.12,"v":37.0288},{"t":18.23,"v":37.0907},{"t":18.246,"v":36.9505},{"t":18.37,"v":36.8916},
{"t":18.5,"v":36.8434},{"t":18.508,"v":37.0000},{"t":18.62,"v":37.0508},{"t":18.74,"v":37.1016},{"t":18.756,"v":36.9560},{"t":18.87,"v":36.8926},
{"t":19.0,"v":36.8407},{"t":19.008,"v":37.0000},{"t":19.12,"v":37.0495},{"t":19.23,"v":37.0989},{"t":19.246,"v":36.9725},{"t":19.37,"v":36.9242},
{"t":19.5,"v":36.8846},{"t":19.508,"v":37.0330},{"t":19.62,"v":37.0797},{"t":19.74,"v":37.1264},{"t":19.756,"v":37.0000},{"t":19.87,"v":36.9305},
{"t":20.0,"v":36.8736},{"t":20.008,"v":37.0220},{"t":20.12,"v":37.0866},{"t":20.23,"v":37.1511},{"t":20.246,"v":37.0440},{"t":20.37,"v":36.9533},
{"t":20.5,"v":36.8791},{"t":20.508,"v":37.0330},{"t":20.62,"v":37.1003},{"t":20.73,"v":37.1676},{"t":20.746,"v":37.0494},{"t":20.87,"v":36.9678},
{"t":21.0,"v":36.9011},{"t":21.008,"v":37.0549},{"t":21.12,"v":37.1099},{"t":21.22,"v":37.1648},{"t":21.236,"v":37.0604},{"t":21.36,"v":36.9970},
{"t":21.5,"v":36.9451},{"t":21.508,"v":37.0604},{"t":21.61,"v":37.0934},{"t":21.71,"v":37.1264},{"t":21.726,"v":37.0165},{"t":21.86,"v":36.9575},
{"t":22.0,"v":36.9093},{"t":22.008,"v":37.0714},{"t":22.12,"v":37.1195},{"t":22.23,"v":37.1676},{"t":22.246,"v":37.0549},{"t":22.37,"v":36.9945},
{"t":22.5,"v":36.9451},{"t":22.508,"v":37.0879},{"t":22.62,"v":37.1429},{"t":22.73,"v":37.1978},{"t":22.746,"v":37.0989},{"t":22.87,"v":37.0294},
{"t":23.0,"v":36.9725},{"t":23.008,"v":37.0879},{"t":23.1,"v":37.1168},{"t":23.19,"v":37.1456},{"t":23.206,"v":37.0220},{"t":23.34,"v":36.9616},
{"t":23.5,"v":36.9121},{"t":23.508,"v":37.0769},{"t":23.62,"v":37.1140},{"t":23.72,"v":37.1511},{"t":23.736,"v":37.0440},{"t":23.87,"v":36.9836},{"t":24.0,"v":36.9341}
],
"pc": [
{"t":0,"v":24.0},{"t":0.22,"v":23.84},{"t":0.34,"v":23.69},{"t":0.53,"v":23.52},{"t":0.73,"v":23.50},{"t":0.88,"v":23.36},{"t":1.04,"v":23.28},{"t":1.23,"v":23.36},{"t":1.35,"v":23.28},{"t":1.50,"v":23.26},{"t":1.74,"v":23.42},{"t":2.01,"v":23.39},{"t":2.24,"v":23.52},{"t":2.51,"v":23.43},{"t":2.74,"v":23.55},{"t":3.02,"v":23.48},{"t":3.25,"v":23.61},{"t":3.52,"v":23.45},{"t":3.73,"v":23.52},{"t":4.02,"v":23.45},{"t":4.26,"v":23.60},{"t":4.53,"v":23.56},{"t":4.74,"v":23.66},{"t":5.03,"v":23.57},{"t":5.26,"v":23.77},{"t":5.50,"v":23.90},{"t":5.61,"v":24.05},{"t":5.77,"v":24.48},{"t":5.96,"v":25.05},{"t":6.19,"v":25.62},{"t":6.43,"v":26.16},{"t":6.58,"v":26.46},{"t":6.75,"v":26.73},{"t":6.93,"v":26.80},{"t":7.09,"v":26.83},{"t":7.24,"v":26.73},{"t":7.40,"v":26.40},{"t":7.55,"v":26.07},{"t":7.71,"v":25.95},{"t":7.86,"v":25.77},{"t":8.02,"v":25.71},{"t":8.21,"v":25.77},{"t":8.40,"v":25.65},{"t":8.56,"v":25.56},{"t":8.71,"v":25.57},{"t":8.87,"v":25.47},{"t":9.02,"v":25.42},{"t":9.26,"v":25.62},{"t":9.41,"v":25.60},{"t":9.53,"v":25.56},{"t":9.76,"v":25.68},{"t":9.88,"v":25.68},{"t":9.99,"v":25.83},{"t":10.11,"v":26.22},{"t":10.26,"v":26.77},{"t":10.46,"v":27.49},{"t":10.65,"v":28.18},{"t":10.77,"v":28.36},{"t":11.0,"v":28.72},{"t":11.25,"v":29.08},{"t":11.51,"v":29.16},{"t":11.74,"v":29.33},{"t":12.0,"v":29.50},{"t":12.25,"v":29.78},{"t":12.48,"v":29.93},{"t":12.76,"v":30.18},{"t":13.03,"v":30.23},{"t":13.26,"v":30.36},{"t":13.54,"v":30.36},{"t":13.76,"v":30.48},{"t":14.0,"v":30.45},{"t":14.24,"v":30.54},{"t":14.54,"v":30.51},{"t":14.75,"v":30.62},{"t":15.0,"v":30.57},{"t":15.24,"v":30.56},{"t":15.37,"v":30.44},{"t":15.53,"v":30.36},{"t":15.72,"v":30.36},{"t":15.88,"v":30.23},{"t":16.03,"v":30.14},{"t":16.23,"v":30.17},{"t":16.54,"v":29.87},{"t":16.73,"v":29.72},{"t":16.85,"v":29.51},{"t":17.01,"v":29.27},{"t":17.24,"v":29.25},{"t":17.36,"v":29.11},{"t":17.52,"v":28.95},{"t":17.75,"v":29.0},{"t":17.87,"v":28.95},{"t":18.02,"v":28.93},{"t":18.26,"v":29.17},{"t":18.49,"v":29.22},{"t":18.72,"v":29.40},{"t":19.0,"v":29.48},{"t":19.23,"v":29.75},{"t":19.43,"v":29.83},{"t":19.7,"v":29.79},{"t":19.85,"v":29.51},{"t":20.01,"v":29.39},{"t":20.25,"v":29.55},{"t":20.48,"v":29.55},{"t":20.75,"v":29.81},{"t":20.99,"v":29.95},{"t":21.22,"v":30.29},{"t":21.49,"v":30.47},{"t":21.73,"v":30.77},{"t":22.0,"v":30.81},{"t":22.25,"v":30.93},{"t":22.52,"v":30.81},{"t":22.71,"v":30.84},{"t":22.9,"v":30.75},{"t":23.06,"v":30.71},{"t":23.21,"v":30.71},{"t":23.52,"v":30.50},{"t":23.72,"v":30.51},{"t":23.87,"v":30.41},{"t":24.0,"v":30.36}
]
},
"vconcat": [
{
"width": 2745, "height": 468,
"encoding": {
"x": {"field": "t", "type": "quantitative", "scale": {"domain": [0, 24], "nice": false, "zero": false},
"axis": {"values": [0,0.25,0.5,0.75,1,1.25,1.5,1.75,2,2.25,2.5,2.75,3,3.25,3.5,3.75,4,4.25,4.5,4.75,5,5.25,5.5,5.75,6,6.25,6.5,6.75,7,7.25,7.5,7.75,8,8.25,8.5,8.75,9,9.25,9.5,9.75,10,10.25,10.5,10.75,11,11.25,11.5,11.75,12,12.25,12.5,12.75,13,13.25,13.5,13.75,14,14.25,14.5,14.75,15,15.25,15.5,15.75,16,16.25,16.5,16.75,17,17.25,17.5,17.75,18,18.25,18.5,18.75,19,19.25,19.5,19.75,20,20.25,20.5,20.75,21,21.25,21.5,21.75,22,22.25,22.5,22.75,23,23.25,23.5,23.75,24], "labels": false, "title": null, "grid": true,
"tickSize": {"condition": {"test": "datum.value % 1 === 0", "value": 17}, "value": 10},
"tickWidth": {"condition": {"test": "datum.value % 1 === 0", "value": 3}, "value": 2},
"gridOpacity": {"condition": {"test": "datum.value % 1 === 0", "value": 1}, "value": 0}}}
},
"layer": [
{"data": {"name": "pw"}, "mark": {"type": "line", "color": "#000000", "strokeWidth": 3.2},
"encoding": {"y": {"field": "v", "type": "quantitative", "title": "Trans. Power [W]", "scale": {"domain": [1.4929, 1.5294], "nice": false, "zero": false},
"axis": {"values": [1.50, 1.51, 1.52], "format": ".2f", "tickSize": 17, "tickWidth": 3, "labelPadding": 12, "titlePadding": 15, "grid": true}}}},
{"data": {"name": "ps"}, "mark": {"type": "rule", "color": "#000000", "strokeWidth": 2.8},
"encoding": {"y": {"field": "b", "type": "quantitative", "title": "Trans. Power [W]"}, "y2": {"field": "s"}}}
]
},
{
"width": 2745, "height": 468,
"data": {"name": "tt"},
"mark": {"type": "line", "color": "#d62728", "strokeWidth": 3.6},
"encoding": {
"x": {"field": "t", "type": "quantitative", "scale": {"domain": [0, 24], "nice": false, "zero": false},
"axis": {"values": [0,0.25,0.5,0.75,1,1.25,1.5,1.75,2,2.25,2.5,2.75,3,3.25,3.5,3.75,4,4.25,4.5,4.75,5,5.25,5.5,5.75,6,6.25,6.5,6.75,7,7.25,7.5,7.75,8,8.25,8.5,8.75,9,9.25,9.5,9.75,10,10.25,10.5,10.75,11,11.25,11.5,11.75,12,12.25,12.5,12.75,13,13.25,13.5,13.75,14,14.25,14.5,14.75,15,15.25,15.5,15.75,16,16.25,16.5,16.75,17,17.25,17.5,17.75,18,18.25,18.5,18.75,19,19.25,19.5,19.75,20,20.25,20.5,20.75,21,21.25,21.5,21.75,22,22.25,22.5,22.75,23,23.25,23.5,23.75,24], "labels": false, "title": null, "grid": true,
"tickSize": {"condition": {"test": "datum.value % 1 === 0", "value": 17}, "value": 10},
"tickWidth": {"condition": {"test": "datum.value % 1 === 0", "value": 3}, "value": 2},
"gridOpacity": {"condition": {"test": "datum.value % 1 === 0", "value": 1}, "value": 0}}},
"y": {"field": "v", "type": "quantitative", "title": "Trans. Temp [°C]", "scale": {"domain": [39.0227, 39.224], "nice": false, "zero": false},
"axis": {"values": [39.05, 39.10, 39.15, 39.20], "format": ".2f", "tickSize": 17, "tickWidth": 3, "labelPadding": 12, "titlePadding": 15, "grid": true}}
}
},
{
"width": 2745, "height": 468,
"data": {"name": "rt"},
"mark": {"type": "line", "color": "#ff7f0e", "strokeWidth": 3.0},
"encoding": {
"x": {"field": "t", "type": "quantitative", "scale": {"domain": [0, 24], "nice": false, "zero": false},
"axis": {"values": [0,0.25,0.5,0.75,1,1.25,1.5,1.75,2,2.25,2.5,2.75,3,3.25,3.5,3.75,4,4.25,4.5,4.75,5,5.25,5.5,5.75,6,6.25,6.5,6.75,7,7.25,7.5,7.75,8,8.25,8.5,8.75,9,9.25,9.5,9.75,10,10.25,10.5,10.75,11,11.25,11.5,11.75,12,12.25,12.5,12.75,13,13.25,13.5,13.75,14,14.25,14.5,14.75,15,15.25,15.5,15.75,16,16.25,16.5,16.75,17,17.25,17.5,17.75,18,18.25,18.5,18.75,19,19.25,19.5,19.75,20,20.25,20.5,20.75,21,21.25,21.5,21.75,22,22.25,22.5,22.75,23,23.25,23.5,23.75,24], "labels": false, "title": null, "grid": true,
"tickSize": {"condition": {"test": "datum.value % 1 === 0", "value": 17}, "value": 10},
"tickWidth": {"condition": {"test": "datum.value % 1 === 0", "value": 3}, "value": 2},
"gridOpacity": {"condition": {"test": "datum.value % 1 === 0", "value": 1}, "value": 0}}},
"y": {"field": "v", "type": "quantitative", "title": "Rec. Temp [°C]", "scale": {"domain": [36.4593, 37.233], "nice": false, "zero": false},
"axis": {"values": [36.6, 36.8, 37.0, 37.2], "format": ".1f", "tickSize": 17, "tickWidth": 3, "labelPadding": 12, "titlePadding": 15, "grid": true}}
}
},
{
"width": 2745, "height": 468,
"data": {"name": "pc"},
"mark": {"type": "line", "color": "#1f77b4", "strokeWidth": 3.0},
"encoding": {
"x": {"field": "t", "type": "quantitative", "scale": {"domain": [0, 24], "nice": false, "zero": false},
"axis": {"values": [0,0.25,0.5,0.75,1,1.25,1.5,1.75,2,2.25,2.5,2.75,3,3.25,3.5,3.75,4,4.25,4.5,4.75,5,5.25,5.5,5.75,6,6.25,6.5,6.75,7,7.25,7.5,7.75,8,8.25,8.5,8.75,9,9.25,9.5,9.75,10,10.25,10.5,10.75,11,11.25,11.5,11.75,12,12.25,12.5,12.75,13,13.25,13.5,13.75,14,14.25,14.5,14.75,15,15.25,15.5,15.75,16,16.25,16.5,16.75,17,17.25,17.5,17.75,18,18.25,18.5,18.75,19,19.25,19.5,19.75,20,20.25,20.5,20.75,21,21.25,21.5,21.75,22,22.25,22.5,22.75,23,23.25,23.5,23.75,24], "title": "Time [UTC]", "titlePadding": 6, "grid": true,
"labelExpr": "datum.value % 1 === 0 ? (datum.value === 24 ? '00' : (datum.value < 10 ? '0' + datum.value : '' + datum.value)) : ''",
"labelOverlap": false, "labelFlush": false, "labelPadding": 10,
"tickSize": {"condition": {"test": "datum.value % 1 === 0", "value": 17}, "value": 10},
"tickWidth": {"condition": {"test": "datum.value % 1 === 0", "value": 3}, "value": 2},
"gridOpacity": {"condition": {"test": "datum.value % 1 === 0", "value": 1}, "value": 0}}},
"y": {"field": "v", "type": "quantitative", "title": "PC Temp [°C]", "scale": {"domain": [22.86, 31.32], "nice": false, "zero": false},
"axis": {"values": [24, 26, 28, 30], "format": "d", "tickSize": 17, "tickWidth": 3, "labelPadding": 12, "titlePadding": 15, "grid": true}}
}
}
]
}
